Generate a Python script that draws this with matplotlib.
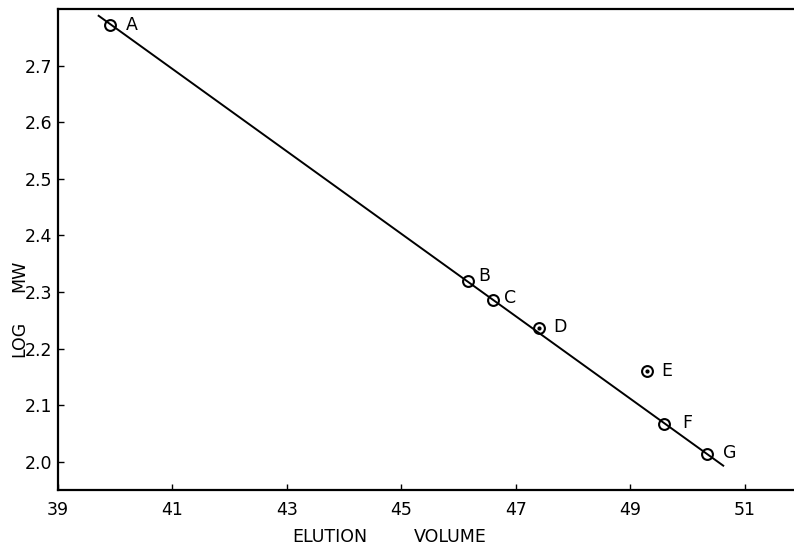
import matplotlib
matplotlib.use('Agg')
import matplotlib.pyplot as plt

# calibration standards
labels = ['A', 'B', 'C', 'D', 'E', 'F', 'G']
elution = [39.91, 46.16, 46.60, 47.40, 49.29, 49.59, 50.33]
log_mw = [2.772, 2.319, 2.286, 2.237, 2.161, 2.067, 2.014]
dotted = ['D', 'E']

# fitted line end points
fit_x = [39.71, 50.62]
fit_y = [2.788, 1.993]

xticks = [39, 41, 43, 45, 47, 49, 51]
yticks = [2.0, 2.1, 2.2, 2.3, 2.4, 2.5, 2.6, 2.7]

# label offsets in pixels (dx, dy)
offsets = {'A': (16, 0), 'B': (10, 5), 'C': (11, 2), 'D': (14, 1),
           'E': (14, 0), 'F': (18, 1), 'G': (16, 1)}

plt.rcParams['font.family'] = 'DejaVu Sans'
W, H = 794, 546
fig = plt.figure(figsize=(W / 100, H / 100), dpi=100)
ax = fig.add_axes([58 / W, 56 / H, (W - 58) / W, (490 - 9) / H])

ax.plot(fit_x, fit_y, color='black', lw=1.4, zorder=2)
ax.plot(elution, log_mw, 'o', ms=7.8, mfc='none', mec='black', mew=1.5,
        ls='none', zorder=3)
for lab, x, y in zip(labels, elution, log_mw):
    if lab in dotted:
        ax.plot(x, y, 'o', ms=2.0, color='black', zorder=4)
    dx, dy = offsets[lab]
    ax.annotate(lab, (x, y), xytext=(dx * 0.72, dy * 0.72),
                textcoords='offset points', ha='left', va='center',
                fontsize=12.5)

ax.set_xlim(39, 39 + (W - 58) / 57.25)
ax.set_ylim(1.95, 2.80)
ax.set_xticks(xticks)
ax.set_yticks(yticks)
ax.set_xticklabels([str(t) for t in xticks])
ax.set_yticklabels([f'{t:.1f}' for t in yticks])
ax.tick_params(direction='in', length=4, width=1.0, labelsize=12.5)
ax.tick_params(axis='x', pad=8)
ax.tick_params(axis='y', pad=4)
for s in ['left', 'bottom', 'top']:
    ax.spines[s].set_linewidth(1.6)
ax.spines['right'].set_visible(False)

fig.text(330 / W, 1 - 537 / H, 'ELUTION', ha='center', va='center', fontsize=12.5)
fig.text(450 / W, 1 - 537 / H, 'VOLUME', ha='center', va='center', fontsize=12.5)
fig.text(19 / W, 1 - 339 / H, 'LOG', ha='center', va='center', rotation=90,
         fontsize=12.5)
fig.text(19 / W, 1 - 276 / H, 'MW', ha='center', va='center', rotation=90,
         fontsize=12.5)

fig.savefig('out.png', dpi=100)
